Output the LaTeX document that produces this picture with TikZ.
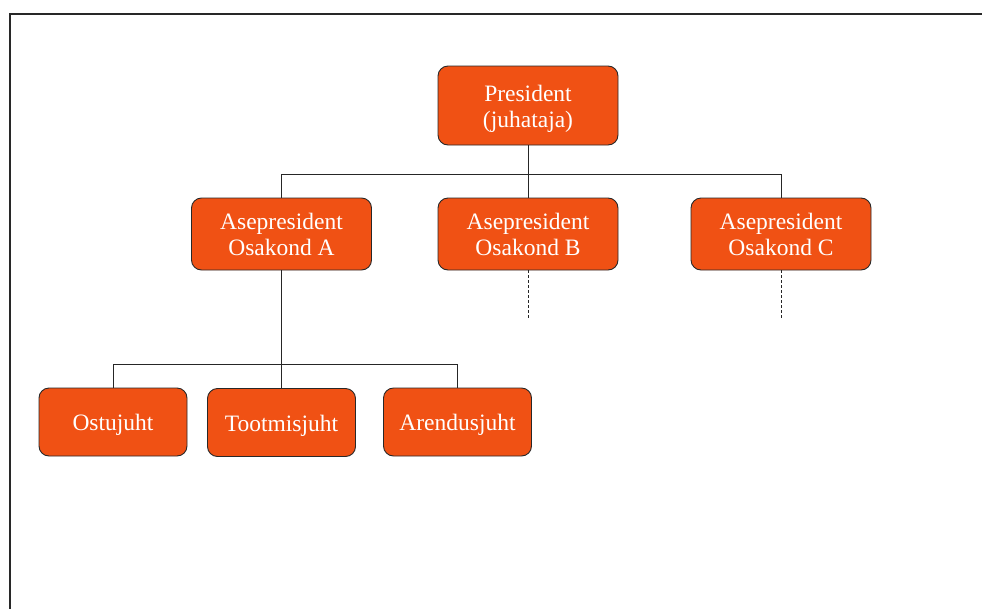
\documentclass[tikz,border=0pt]{standalone}
\usepackage{fontspec}
\setmainfont{Liberation Serif}
% lower the label inside its box while keeping the box size
\newcommand\unittext[1]{\raisebox{-3.5pt}[\height][\depth]{\begin{tabular}{@{}c@{}}#1\end{tabular}}}
\begin{document}
\definecolor{boxfill}{RGB}{240,81,20}
\definecolor{boxedge}{RGB}{40,40,40}
\definecolor{framecol}{RGB}{40,40,40}
\tikzset{
  unit/.style={draw=boxedge, line width=0.9pt, fill=boxfill, rounded corners=10pt,
    text=white, inner sep=0pt,
    font=\fontsize{23.5}{26}\selectfont},
  wide/.style={unit, minimum width=180pt, minimum height=72pt},
  small/.style={unit, minimum width=148pt, minimum height=68pt},
  link/.style={draw=black!85, line width=1pt},
  open/.style={link, dashed, dash pattern=on 3pt off 2pt}
}
\begin{tikzpicture}[x=1pt, y=-1pt]
  \useasboundingbox (0,0) rectangle (982,608);
  % page frame, running off the right and bottom edges
  \draw[framecol, line width=2pt] (9.7,620) -- (9.7,13.7) -- (995,13.7);

  % units
  \node[wide, minimum height=79pt] (pres) at (528,105.5) {\unittext{President\\(juhataja)}};
  \node[wide] (vpa) at (281.5,234) {\unittext{Asepresident\\Osakond A}};
  \node[wide] (vpb) at (528,234) {\unittext{Asepresident\\Osakond B}};
  \node[wide] (vpc) at (781,234) {\unittext{Asepresident\\Osakond C}};
  \node[small] (ost) at (113,422) {\unittext{Ostujuht}};
  \node[small] (too) at (281.5,422.5) {\unittext{Tootmisjuht}};
  \node[small] (are) at (457.5,422) {\unittext{Arendusjuht}};

  % junction levels and open ends
  \coordinate (busA) at (0,174.7);
  \coordinate (busB) at (0,364.3);
  \coordinate (endb) at (528,319);
  \coordinate (endc) at (781.5,319);

  % president to vice presidents
  \draw[link] (pres.south) -- (vpb.north);
  \draw[link] (vpa.north) -- (vpa.north |- busA) -- (vpc.north |- busA) -- (vpc.north);

  % vice president A to managers
  \draw[link] (vpa.south) -- (too.north);
  \draw[link] (ost.north) -- (ost.north |- busB) -- (are.north |- busB) -- (are.north);

  % continuations below B and C
  \draw[open] (vpb.south) -- (endb);
  \draw[open] (vpc.south -| endc) -- (endc);
\end{tikzpicture}
\end{document}
